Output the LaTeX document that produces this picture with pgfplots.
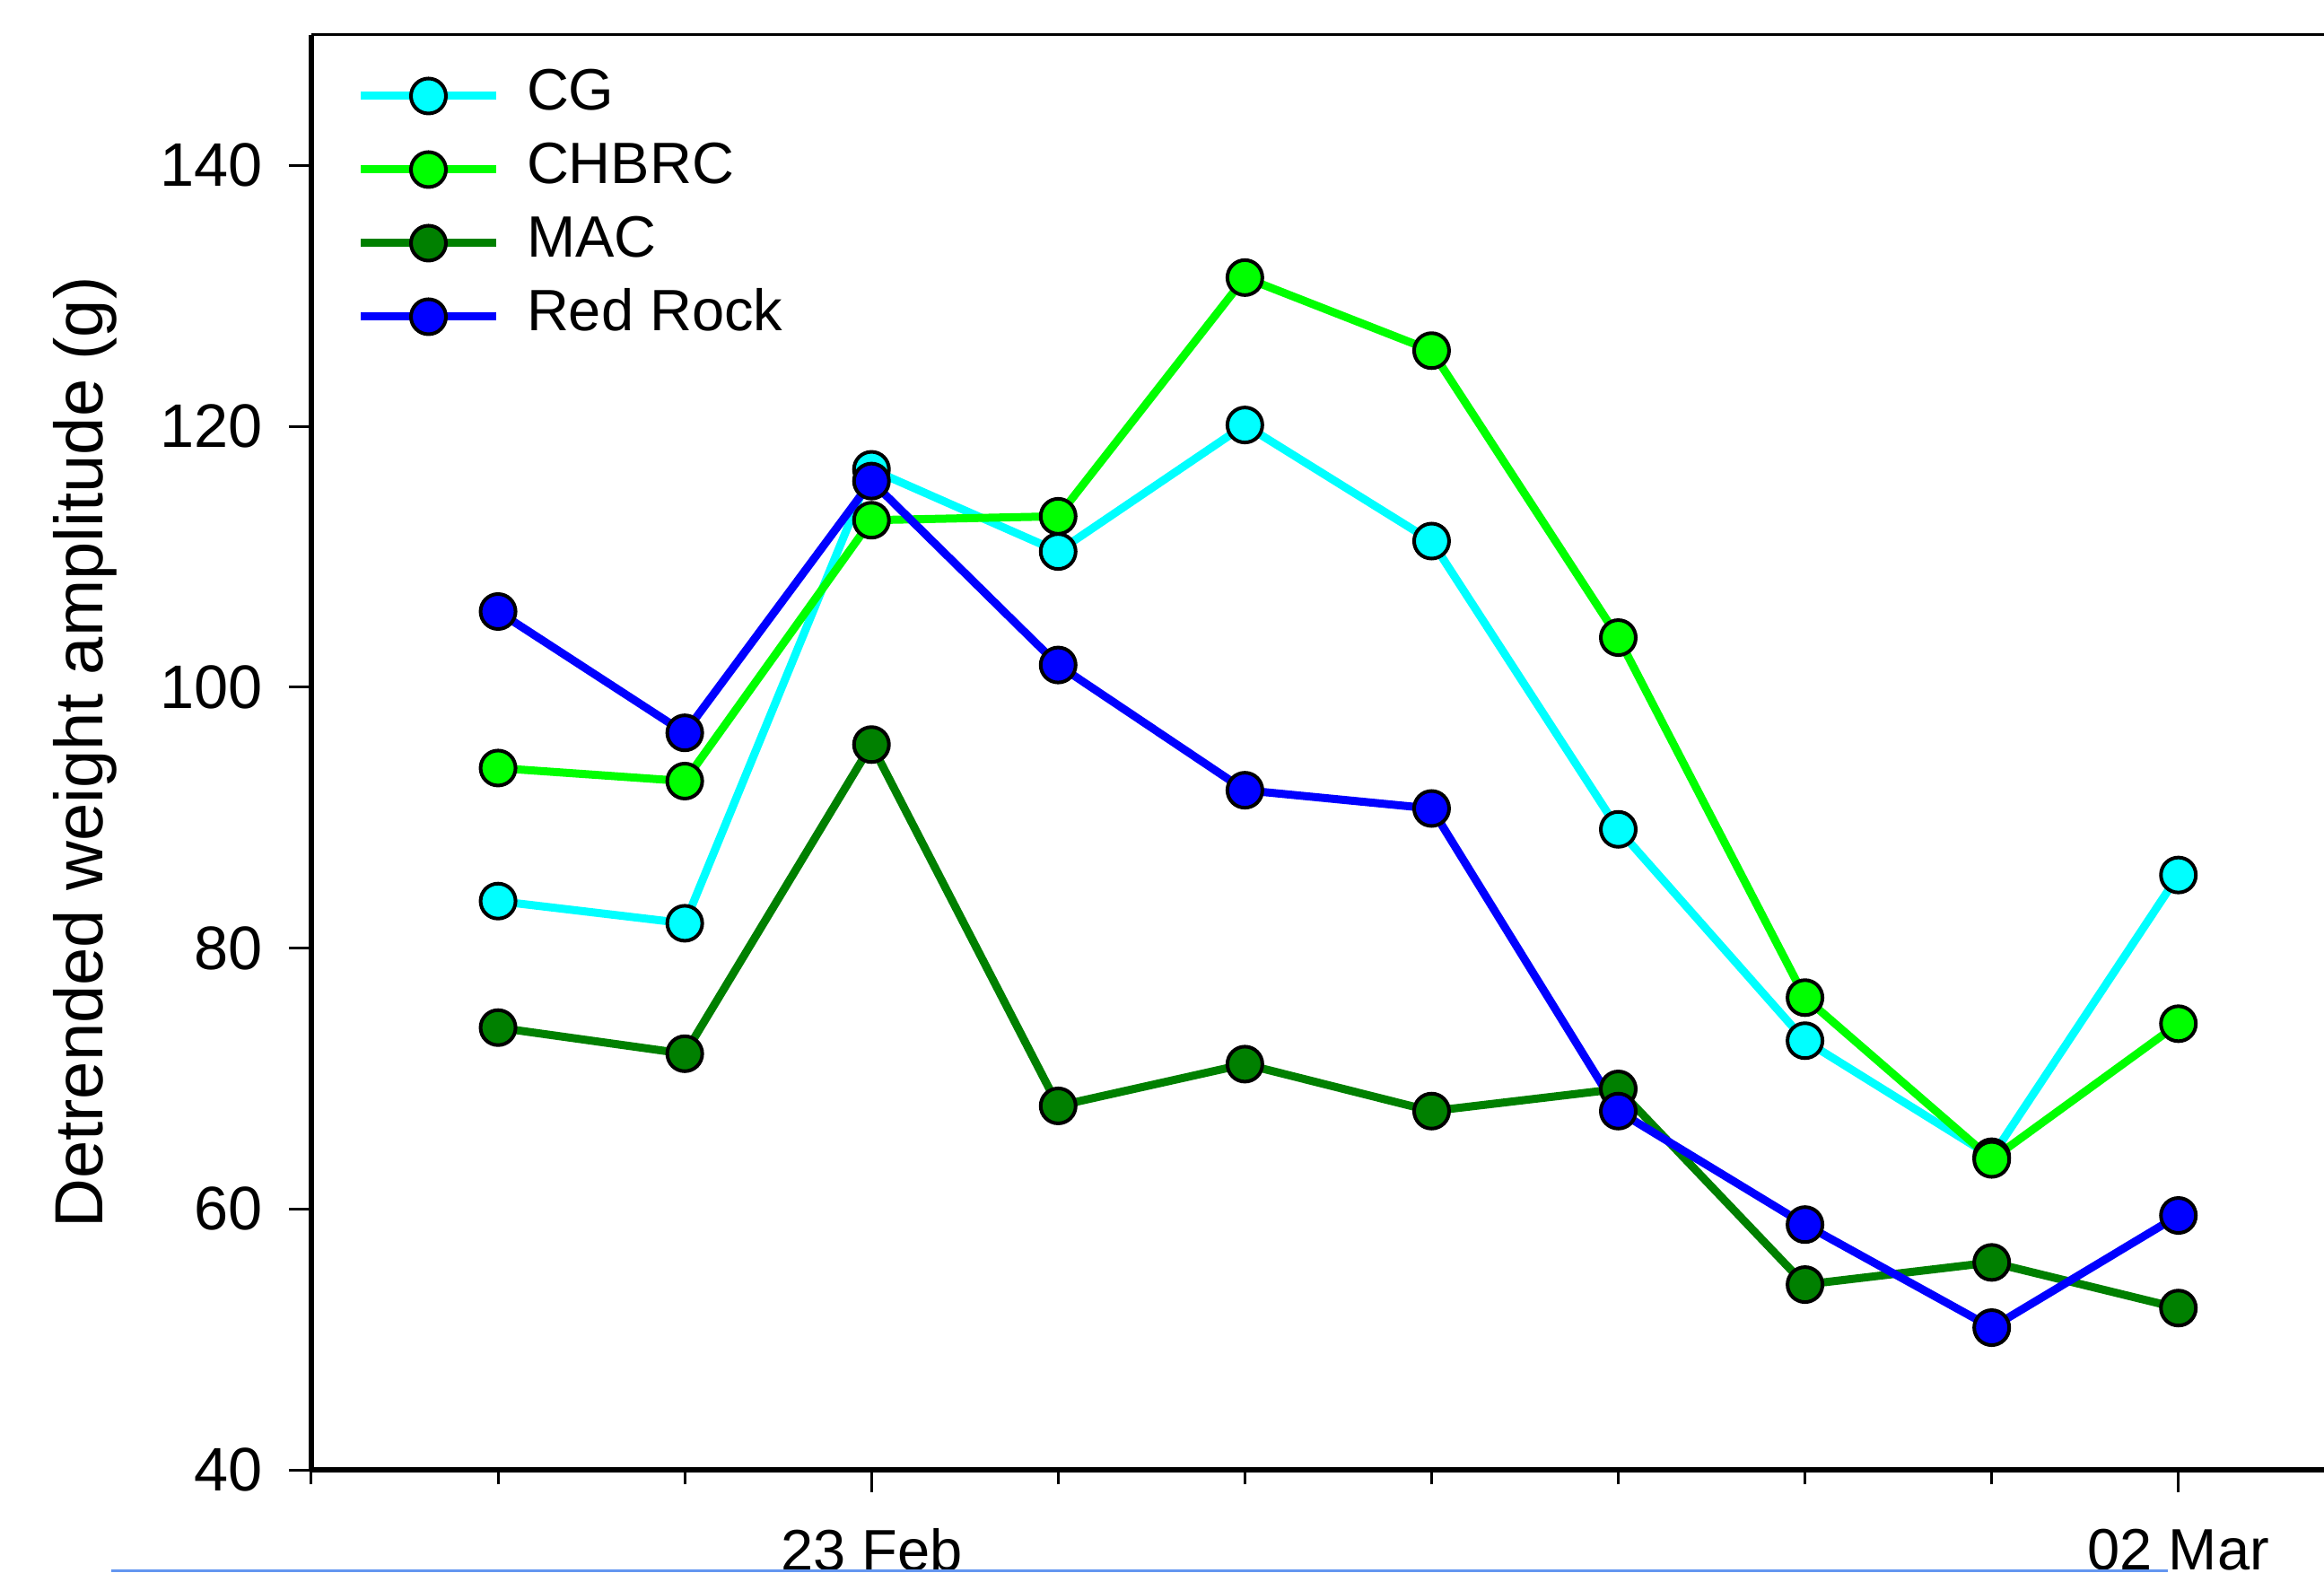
\documentclass[border=0pt]{standalone}
\usepackage{pgfplots}
\pgfplotsset{compat=1.18}
\usepackage{fontspec}
\setmainfont{Liberation Sans}
\definecolor{cgc}{RGB}{0,255,255}
\definecolor{chc}{RGB}{0,255,0}
\definecolor{macc}{RGB}{0,128,0}
\definecolor{rrc}{RGB}{0,0,255}
\definecolor{artc}{RGB}{100,150,240}
\begin{document}
\begin{tikzpicture}
\useasboundingbox (-69.4pt,-22.8pt) rectangle (448.6pt,327.6pt);
\clip (-69.4pt,-22.8pt) rectangle (448.6pt,327.6pt);
\begin{axis}[
  at={(0,0)}, anchor=south west,
  scale only axis, width=448.6pt, height=319.8pt,
  xmin=0, xmax=10.78, ymin=40, ymax=150,
  axis x line*=bottom, axis y line*=left,
  axis line style={line width=1.1pt},
  clip=false,
  xtick={3,10}, xticklabels={23 Feb,02 Mar},
  minor xtick={0,1,2,4,5,6,7,8,9,11},
  ytick={40,60,80,100,120,140},
  tick align=outside,
  major tick length=5pt, minor tick length=3.2pt,
  every tick/.style={black, line width=0.6pt},
  x tick label style={font=\fontsize{13}{15}\selectfont, yshift=-4.6pt},
  y tick label style={font=\fontsize{13.7}{16}\selectfont, xshift=-2.4pt},
  /pgf/number format/assume math mode=true,
  ylabel={Detrended weight amplitude (g)},
  every axis y label/.style={at={(axis description cs:0,0.5)}, xshift=-46.4pt, rotate=90, anchor=base, font=\fontsize{15.2}{18}\selectfont},
  legend cell align=left,
  legend style={draw=none, fill=none, at={(axis description cs:0,1)}, anchor=north west, xshift=10pt, yshift=-6.6pt,
    font=\fontsize{13}{15}\selectfont, row sep=2.8pt, inner sep=0pt,
    nodes={inner sep=1pt, text height=9pt, text depth=2.6pt},
    /tikz/every odd column/.append style={column sep=5pt}},
  legend image code/.code={\draw[mark repeat=2,mark phase=2] plot coordinates {(0pt,0pt) (15pt,0pt) (30pt,0pt)};},
  every axis plot/.append style={line width=1.8pt, mark=*, mark size=3.9pt},
]
\addplot[cgc, mark options={fill=cgc, draw=black, line width=0.8pt}] coordinates {
(1,83.6) (2,81.9) (3,116.7) (4,110.4) (5,120.1) (6,111.2) (7,89.1) (8,72.9) (9,64.0) (10,85.6)};
\addlegendentry{CG}
\addplot[chc, mark options={fill=chc, draw=black, line width=0.8pt}] coordinates {
(1,93.8) (2,92.8) (3,112.8) (4,113.1) (5,131.4) (6,125.8) (7,103.8) (8,76.2) (9,63.8) (10,74.2)};
\addlegendentry{CHBRC}
\addplot[macc, mark options={fill=macc, draw=black, line width=0.8pt}] coordinates {
(1,73.9) (2,71.9) (3,95.6) (4,67.9) (5,71.1) (6,67.5) (7,69.2) (8,54.2) (9,55.9) (10,52.4)};
\addlegendentry{MAC}
\addplot[rrc, mark options={fill=rrc, draw=black, line width=0.8pt}] coordinates {
(1,105.8) (2,96.5) (3,115.8) (4,101.7) (5,92.1) (6,90.7) (7,67.5) (8,58.8) (9,50.9) (10,59.5)};
\addlegendentry{Red Rock}
\draw[black, line width=0.6pt] (rel axis cs:0,1) -- (rel axis cs:1.05,1);
\end{axis}
\draw[artc, line width=0.5pt] (-44.6pt,-22.5pt) -- (413.8pt,-22.5pt);
\end{tikzpicture}
\end{document}
